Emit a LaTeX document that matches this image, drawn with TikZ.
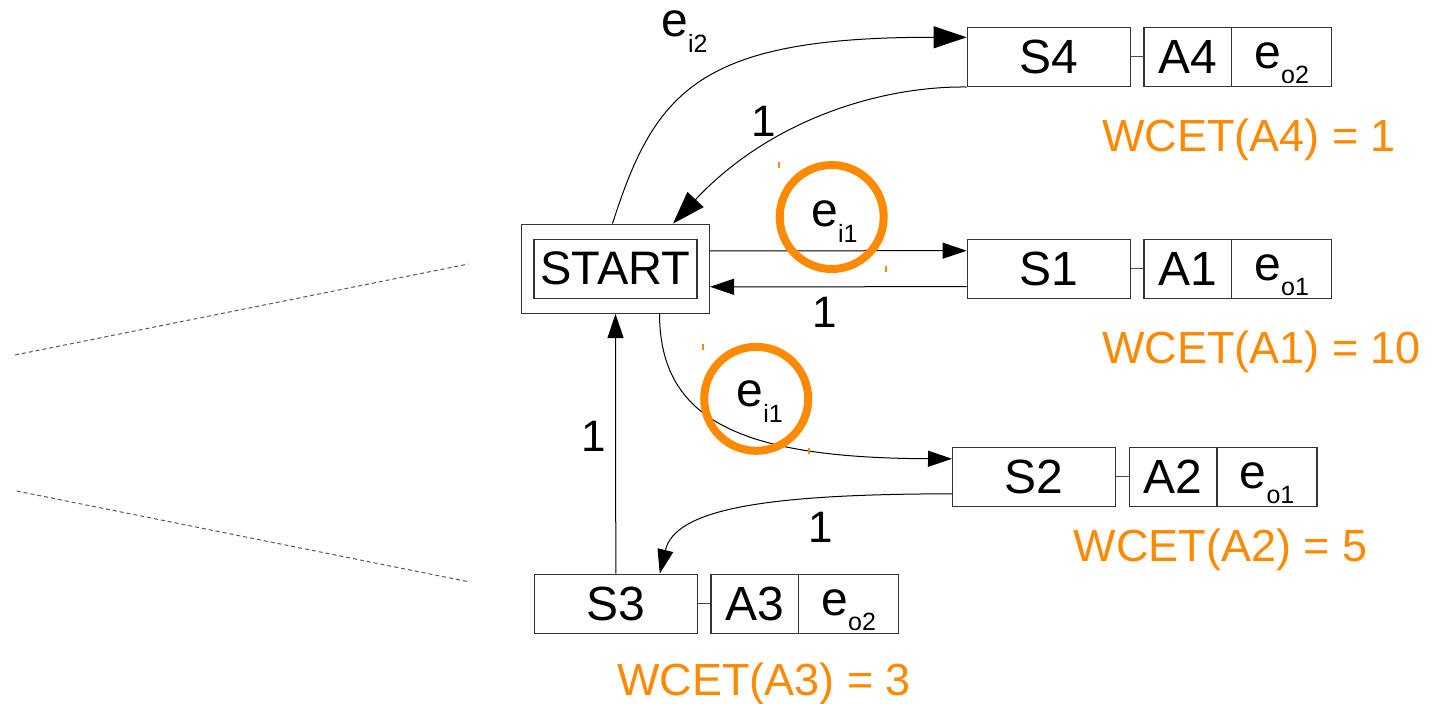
\documentclass[tikz,border=0pt]{standalone}
\usepackage{fontspec}
\setmainfont{Liberation Sans}
\usetikzlibrary{arrows.meta,positioning}

\definecolor{wcetorange}{RGB}{255,137,0}
% lowered index after an event name (e_i1, e_o2, ...)
\newcommand{\lowidx}[1]{\raisebox{-7.75pt}{\fontsize{12.5}{12.5}\selectfont #1}}

\begin{document}
\begin{tikzpicture}[
    x=0.5pt, y=-0.5pt,
    sbox/.style={rectangle, draw=black!80, line width=0.7pt, minimum width=81.5pt, minimum height=29.5pt, inner sep=0pt, font=\fontsize{24}{24}\selectfont},
    abox/.style={sbox, minimum width=43.8pt},
    ebox/.style={sbox, minimum width=50pt, text height=13pt, text depth=1.5pt},
    lbl/.style={inner sep=0pt, font=\fontsize{22}{22}\selectfont},
    elbl/.style={inner sep=0pt, anchor=base west, font=\fontsize{24}{24}\selectfont},
    wcet/.style={inner sep=0pt, anchor=base west, text=wcetorange, font=\fontsize{22.5}{22.5}\selectfont},
    hl/.style={circle, draw=wcetorange, line width=4pt, minimum size=52pt, inner sep=0pt},
    link/.style={draw=black!70, line width=0.6pt},
    arrow/.style={-{Triangle[length=12pt,width=8pt]}, line width=0.5pt},
    bigarrow/.style={-{Triangle[length=16.5pt,width=11pt]}, line width=0.5pt},
    guide/.style={draw=black!65, line width=0.5pt, dash pattern=on 2pt off 1.5pt}
]
    \useasboundingbox (0,0) rectangle (1439,703);

    % start state
    \node[sbox, minimum width=93.8pt, minimum height=44.5pt] (start) at (615.5,268.8) {};
    \node[sbox, font=\fontsize{23.5}{23.5}\selectfont] (startin) at (start) {START};

    % states with action and output event
    \node[sbox] (s4) at (1048.8,56.8) {S4};
    \node[abox, right=6.2pt of s4] (a4) {A4};
    \node[ebox, right=-0.7pt of a4] (o4) {e\lowidx{o2}};

    \node[sbox] (s1) at (1048.8,268.7) {S1};
    \node[abox, right=6.2pt of s1] (a1) {A1};
    \node[ebox, right=-0.7pt of a1] (o1) {e\lowidx{o1}};

    \node[sbox] (s2) at (1034.2,476.8) {S2};
    \node[abox, right=6.2pt of s2] (a2) {A2};
    \node[ebox, right=-0.7pt of a2] (o2) {e\lowidx{o1}};

    \node[sbox] (s3) at (615.8,603.7) {S3};
    \node[abox, right=6.2pt of s3] (a3) {A3};
    \node[ebox, right=-0.7pt of a3] (o3) {e\lowidx{o2}};

    \foreach \i in {1,...,4} {
        \draw[link] (s\i) -- (a\i);
    }

    % worst case execution times
    \node[wcet] (w4) at (1101.7,151.7) {WCET(A4) = 1};
    \node[wcet] (w1) at (1101.7,363.3) {WCET(A1) = 10};
    \node[wcet] (w2) at (1073.3,561.7) {WCET(A2) = 5};
    \node[wcet] (w3) at (616.7,695) {WCET(A3) = 3};

    % transitions
    \draw[bigarrow] ([xshift=-1.5pt]start.north) .. controls (655,90) and (700,37) .. ([yshift=9.75pt]s4.west);
    \draw[bigarrow] (s4.south west) .. controls (880,86) and (770,120) .. ([xshift=28.75pt]start.north);
    \draw[arrow] ([yshift=9pt]start.east) -- ([yshift=9pt]s1.west);
    \draw[arrow] ([yshift=-9pt]s1.west) -- ([yshift=-9pt]start.east);
    \draw[arrow] ([xshift=22pt]start.south) .. controls (660,420) and (740,458) .. ([yshift=9pt]s2.west);
    \draw[arrow] ([yshift=-8.5pt]s2.west) .. controls (760,494) and (675,510) .. ([xshift=22pt]s3.north);
    \draw[arrow] (s3.north) -- (start.south);

    \node[elbl] (ei2) at (661,36.7) {e\lowidx{i2}};
    \node[lbl] (c4) at (764,121) {1};
    \node[lbl] (c1) at (825,312) {1};
    \node[lbl] (c3) at (594,436) {1};
    \node[lbl] (c2) at (821,527) {1};

    % highlighted input events
    \node[hl] (hl1) at (831.7,217) {};
    \node[hl] (hl2) at (756.2,398.8) {};
    \node[elbl] (ei1a) at (811,226.7) {e\lowidx{i1}};
    \node[elbl] (ei1b) at (736.3,406.7) {e\lowidx{i1}};
    \foreach \tx/\ty in {779/165, 886/269, 703/347, 809/451}
        \draw[wcetorange, line width=0.6pt] (\tx,\ty-3) -- (\tx,\ty+3);

    % zoom guides
    \draw[guide] (15,355) -- (468.3,264);
    \draw[guide] (16.7,491) -- (468.3,581.7);
\end{tikzpicture}
\end{document}
